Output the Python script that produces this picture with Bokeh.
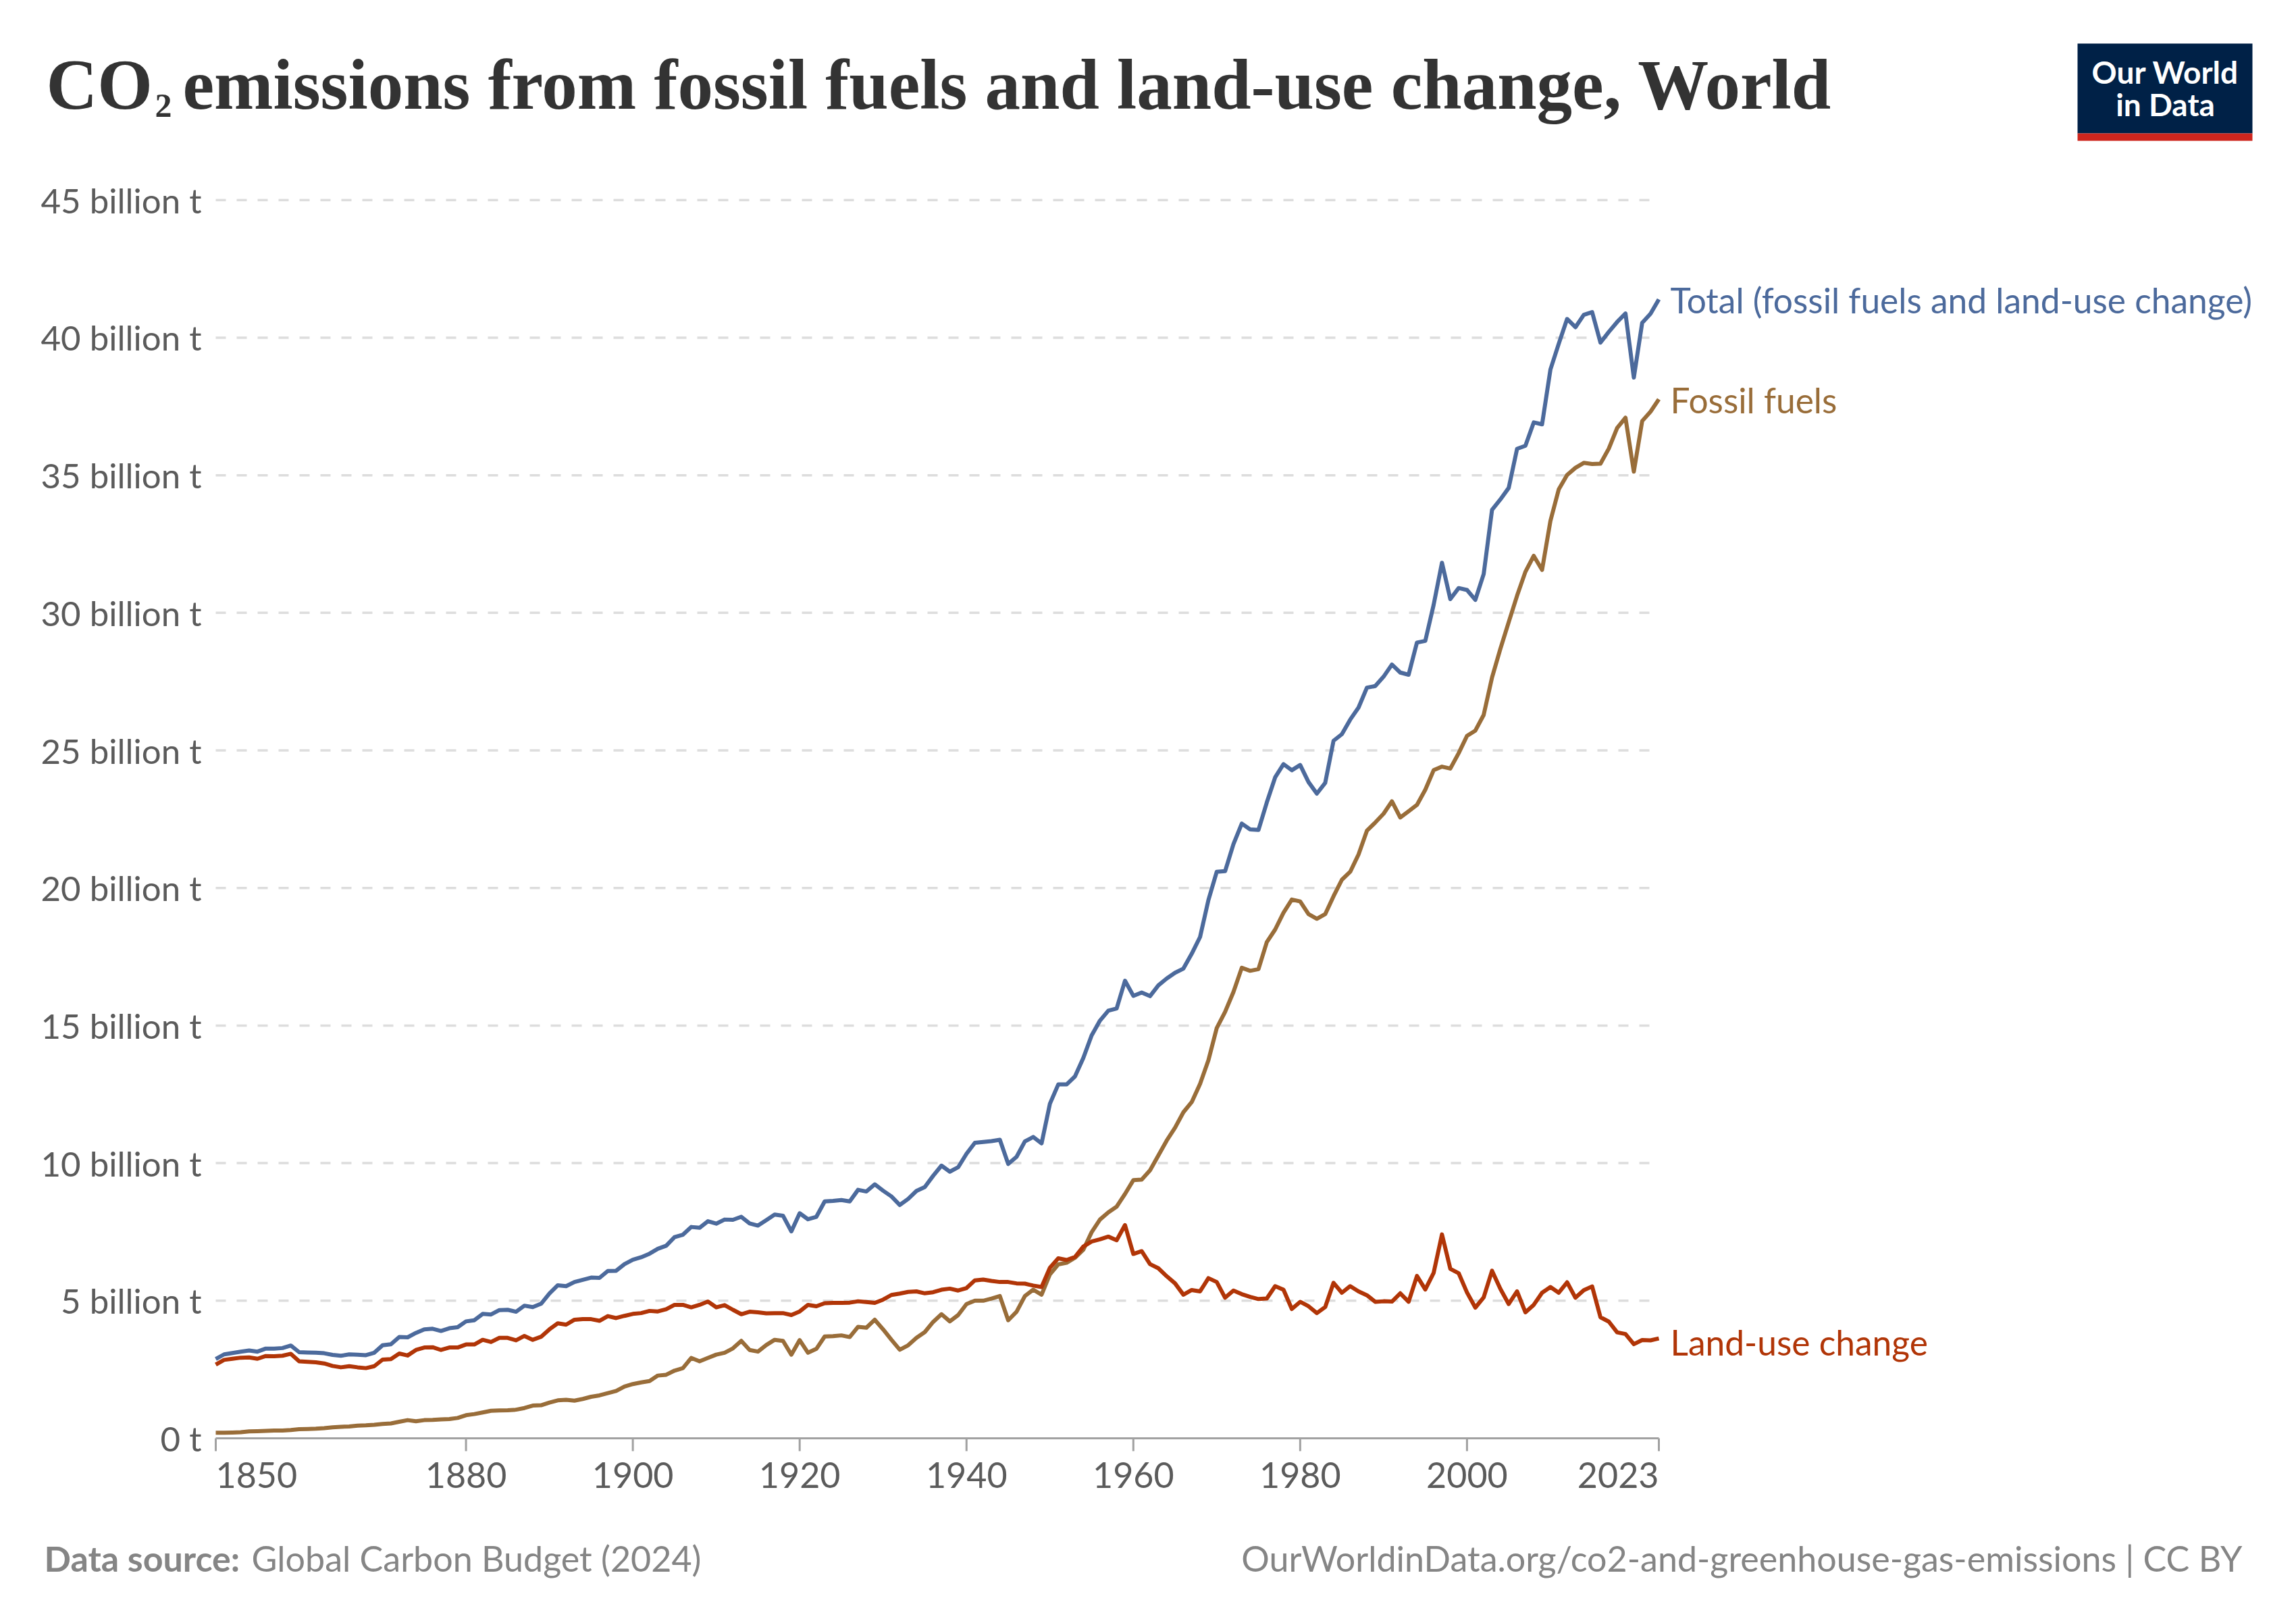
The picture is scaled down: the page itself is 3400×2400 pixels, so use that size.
from bokeh.core.properties import value
from bokeh.embed import file_html
from bokeh.models import Range1d
from bokeh.plotting import figure
from bokeh.resources import INLINE

# annual CO2 emissions, billion tonnes, World, 1850-2023
YEARS = list(range(1850, 2024))

FOSSIL = [
    0.20, 0.20, 0.21, 0.22, 0.25, 0.26, 0.27, 0.28, 0.28, 0.30,   # 1850s
    0.33, 0.34, 0.35, 0.37, 0.40, 0.42, 0.43, 0.46, 0.47, 0.49,   # 1860s
    0.52, 0.54, 0.60, 0.66, 0.62, 0.66, 0.67, 0.69, 0.70, 0.74,   # 1870s
    0.84, 0.88, 0.94, 1.00, 1.01, 1.02, 1.04, 1.10, 1.19, 1.20,   # 1880s
    1.30, 1.38, 1.40, 1.37, 1.43, 1.51, 1.56, 1.64, 1.72, 1.88,   # 1890s
    1.97, 2.03, 2.08, 2.28, 2.31, 2.46, 2.55, 2.92, 2.80, 2.92,   # 1900s
    3.04, 3.11, 3.27, 3.54, 3.21, 3.15, 3.39, 3.58, 3.54, 3.04,   # 1910s
    3.57, 3.11, 3.25, 3.70, 3.71, 3.74, 3.68, 4.05, 4.02, 4.31,   # 1920s
    3.96, 3.58, 3.22, 3.38, 3.65, 3.86, 4.23, 4.51, 4.25, 4.48,   # 1930s
    4.88, 5.00, 5.00, 5.08, 5.17, 4.29, 4.60, 5.17, 5.40, 5.22,   # 1940s
    5.96, 6.32, 6.38, 6.56, 6.85, 7.49, 7.95, 8.21, 8.42, 8.88,   # 1950s
    9.38, 9.40, 9.74, 10.28, 10.82, 11.29, 11.85, 12.22, 12.88, 13.74,   # 1960s
    14.91, 15.50, 16.22, 17.10, 16.99, 17.05, 18.03, 18.49, 19.10, 19.58,  # 1970s
    19.51, 19.05, 18.88, 19.05, 19.70, 20.30, 20.59, 21.22, 22.08, 22.38,  # 1980s
    22.70, 23.15, 22.56, 22.79, 23.02, 23.57, 24.28, 24.41, 24.34, 24.90,  # 1990s
    25.53, 25.72, 26.29, 27.65, 28.69, 29.66, 30.62, 31.49, 32.07, 31.56,  # 2000s
    33.34, 34.49, 35.01, 35.27, 35.45, 35.41, 35.42, 35.97, 36.72, 37.09,  # 2010s
    35.13, 36.97, 37.31, 37.76,                                            # 2020s
]

LAND_USE = [
    2.68, 2.85, 2.89, 2.93, 2.94, 2.89, 2.99, 2.98, 3.00, 3.07,
    2.80, 2.78, 2.76, 2.72, 2.63, 2.58, 2.62, 2.58, 2.55, 2.62,
    2.86, 2.88, 3.08, 3.01, 3.21, 3.30, 3.31, 3.21, 3.30, 3.30,
    3.41, 3.41, 3.58, 3.50, 3.65, 3.65, 3.56, 3.72, 3.58, 3.69,
    3.96, 4.18, 4.13, 4.31, 4.33, 4.33, 4.27, 4.44, 4.37, 4.45,
    4.52, 4.55, 4.63, 4.61, 4.69, 4.85, 4.85, 4.76, 4.85, 4.97,
    4.76, 4.84, 4.67, 4.51, 4.60, 4.58, 4.54, 4.55, 4.55, 4.48,
    4.61, 4.85, 4.80, 4.91, 4.92, 4.92, 4.93, 4.98, 4.95, 4.92,
    5.04, 5.21, 5.26, 5.32, 5.34, 5.27, 5.31, 5.40, 5.44, 5.37,
    5.46, 5.74, 5.77, 5.72, 5.68, 5.68, 5.63, 5.62, 5.55, 5.50,
    6.20, 6.54, 6.48, 6.59, 6.97, 7.15, 7.23, 7.33, 7.20, 7.75,
    6.70, 6.80, 6.33, 6.18, 5.89, 5.63, 5.22, 5.39, 5.34, 5.82,
    5.68, 5.11, 5.37, 5.24, 5.14, 5.06, 5.08, 5.53, 5.40, 4.70,
    4.96, 4.80, 4.55, 4.77, 5.65, 5.29, 5.53, 5.34, 5.20, 4.96,
    4.98, 4.97, 5.27, 4.96, 5.90, 5.41, 6.01, 7.41, 6.16, 6.00,
    5.30, 4.75, 5.12, 6.09, 5.43, 4.88, 5.34, 4.58, 4.85, 5.29,
    5.50, 5.29, 5.67, 5.11, 5.38, 5.52, 4.40, 4.24, 3.85, 3.79,
    3.42, 3.57, 3.56, 3.63,
]

TOTAL = [
    2.88, 3.05, 3.10, 3.15, 3.19, 3.15, 3.26, 3.26, 3.28, 3.37,
    3.13, 3.12, 3.11, 3.09, 3.03, 3.00, 3.05, 3.04, 3.02, 3.11,
    3.38, 3.42, 3.68, 3.67, 3.83, 3.96, 3.98, 3.90, 4.00, 4.04,
    4.25, 4.29, 4.52, 4.50, 4.66, 4.67, 4.60, 4.82, 4.77, 4.89,
    5.26, 5.56, 5.53, 5.68, 5.76, 5.84, 5.83, 6.08, 6.09, 6.33,
    6.49, 6.58, 6.71, 6.89, 7.00, 7.31, 7.40, 7.68, 7.65, 7.89,
    7.80, 7.95, 7.94, 8.05, 7.81, 7.73, 7.93, 8.13, 8.09, 7.52,
    8.18, 7.96, 8.05, 8.61, 8.63, 8.66, 8.61, 9.03, 8.97, 9.23,
    9.00, 8.79, 8.48, 8.70, 8.99, 9.13, 9.54, 9.91, 9.69, 9.85,
    10.34, 10.74, 10.77, 10.80, 10.85, 9.97, 10.23, 10.79, 10.95, 10.72,
    12.16, 12.86, 12.86, 13.15, 13.82, 14.64, 15.18, 15.54, 15.62, 16.63,
    16.08, 16.20, 16.07, 16.46, 16.71, 16.92, 17.07, 17.61, 18.22, 19.56,
    20.59, 20.61, 21.59, 22.34, 22.13, 22.11, 23.11, 24.02, 24.50, 24.28,
    24.47, 23.85, 23.43, 23.82, 25.35, 25.59, 26.12, 26.56, 27.28, 27.34,
    27.68, 28.12, 27.83, 27.75, 28.92, 28.98, 30.29, 31.82, 30.50, 30.90,
    30.83, 30.47, 31.41, 33.74, 34.12, 34.54, 35.96, 36.07, 36.92, 36.85,
    38.84, 39.78, 40.68, 40.38, 40.83, 40.93, 39.82, 40.21, 40.57, 40.88,
    38.55, 40.54, 40.87, 41.39,
]

SERIES_NAMES = ["Total (fossil fuels and land-use change)", "Fossil fuels", "Land-use change"]
SERIES_COLORS = ["#4c6a9c", "#996d39", "#b13507"]

X_TICKS = [1850, 1880, 1900, 1920, 1940, 1960, 1980, 2000, 2023]
Y_TICKS = [0, 5, 10, 15, 20, 25, 30, 35, 40, 45]
Y_TICK_LABELS = ["0 t", "5 billion t", "10 billion t", "15 billion t", "20 billion t",
                 "25 billion t", "30 billion t", "35 billion t", "40 billion t", "45 billion t"]

# title in three pieces so the 2 can sit as a subscript
TITLE_HEAD, TITLE_SUB, TITLE_REST = "CO", "2", "emissions from fossil fuels and land-use change, World"
SOURCE = "Global Carbon Budget (2024)"
URL = "OurWorldinData.org/co2-and-greenhouse-gas-emissions | CC BY"

W, H = 3384, 2384
# where the data area sits on the canvas (px)
FL, FR, FT, FB = 319, 2456, 255, 2129
Y_TOP = 46
KX = (FR - FL) / (YEARS[-1] - YEARS[0])   # px per year
KY = (FB - FT) / Y_TOP                    # px per billion t


def px_x(X):
    # canvas pixel -> data x
    return YEARS[0] + (X - FL) / KX


def px_y(Y):
    return (FB - Y) / KY


# the frame fills the whole canvas; axes and texts are drawn as glyphs
p = figure(width=W, height=H, output_backend="svg", toolbar_location=None,
           x_range=Range1d(px_x(0), px_x(W)), y_range=Range1d(px_y(H), px_y(0)),
           x_axis_location=None, y_axis_location=None,
           min_border=0)
p.outline_line_color = None
p.grid.visible = False
p.background_fill_color = "white"
p.border_fill_color = "white"

LATO = value("Lato")
SERIF = value("Liberation Serif")
BOLD = value("bold")
GREY = "#5b5b5b"
FOOT = "#858585"

# grid lines
p.segment(x0=YEARS[0], x1=YEARS[-1], y0=Y_TICKS[1:], y1=Y_TICKS[1:],
          line_color="#dddddd", line_width=3.5, line_dash="15 16")

# y tick labels
p.text(x=px_x(298), y=Y_TICKS, text=Y_TICK_LABELS, text_align="right",
       text_baseline="middle", text_font=LATO, text_font_size="51px", text_color=GREY)

# x axis line and ticks
p.segment(x0=YEARS[0], x1=YEARS[-1], y0=0, y1=0, line_color="#a1a1a1", line_width=3)
p.segment(x0=X_TICKS, x1=X_TICKS, y0=0, y1=px_y(2148),
          line_color="#a1a1a1", line_width=3)

# x tick labels: first left, last right, others centred
xl_y = px_y(2183)
p.text(x=X_TICKS[:1], y=xl_y, text=[str(t) for t in X_TICKS[:1]], text_align="left",
       text_baseline="middle", text_font=LATO, text_font_size="52px", text_color=GREY)
p.text(x=X_TICKS[1:-1], y=xl_y, text=[str(t) for t in X_TICKS[1:-1]], text_align="center",
       text_baseline="middle", text_font=LATO, text_font_size="52px", text_color=GREY)
p.text(x=X_TICKS[-1:], y=xl_y, text=[str(t) for t in X_TICKS[-1:]], text_align="right",
       text_baseline="middle", text_font=LATO, text_font_size="52px", text_color=GREY)

# lines
for vals, col in zip([TOTAL, FOSSIL, LAND_USE], SERIES_COLORS):
    p.line(YEARS, vals, line_color=col, line_width=6, line_join="round")

# line end labels
for name, col, Y in zip(SERIES_NAMES, SERIES_COLORS, [443, 591, 1986]):
    p.text(x=[px_x(2473)], y=[px_y(Y)], text=[name], text_align="left",
           text_baseline="middle", text_font=LATO, text_font_size="51.5px", text_color=col)

# logo
p.quad(left=px_x(3076), right=px_x(3335), top=px_y(64), bottom=px_y(197),
       fill_color="#002147", line_color=None)
p.quad(left=px_x(3076), right=px_x(3335), top=px_y(197), bottom=px_y(208),
       fill_color="#ce261e", line_color=None)
p.text(x=[px_x(3206)] * 2, y=[px_y(106), px_y(154)], text=["Our World", "in Data"],
       text_align="center", text_baseline="middle", text_font=LATO,
       text_font_style=BOLD, text_font_size="46px", text_color="white")

# footer
p.text(x=[px_x(65)], y=[px_y(2306)], text=["Data source:"], text_align="left",
       text_baseline="middle", text_font=LATO, text_font_style=BOLD,
       text_font_size="52px", text_color=FOOT)
p.text(x=[px_x(372)], y=[px_y(2306)], text=[SOURCE], text_align="left",
       text_baseline="middle", text_font=LATO, text_font_size="52px", text_color=FOOT)
p.text(x=[px_x(3320)], y=[px_y(2306)], text=[URL], text_align="right",
       text_baseline="middle", text_font=LATO, text_font_size="52px", text_color=FOOT)

# title
p.text(x=[px_x(270)], y=[px_y(125)], text=[TITLE_REST], text_align="left",
       text_baseline="middle", text_font=SERIF,
       text_font_style=BOLD, text_font_size="105px", text_color="#333333")
p.text(x=[px_x(68)], y=[px_y(125)], text=[TITLE_HEAD], text_align="left",
       text_baseline="middle", text_font=SERIF,
       text_font_style=BOLD, text_font_size="105px", text_color="#333333")
p.text(x=[px_x(229)], y=[px_y(156)], text=[TITLE_SUB], text_align="left",
       text_baseline="middle", text_font=SERIF,
       text_font_style=BOLD, text_font_size="50px", text_color="#333333")

open("out.html", "w").write(file_html(p, INLINE))
